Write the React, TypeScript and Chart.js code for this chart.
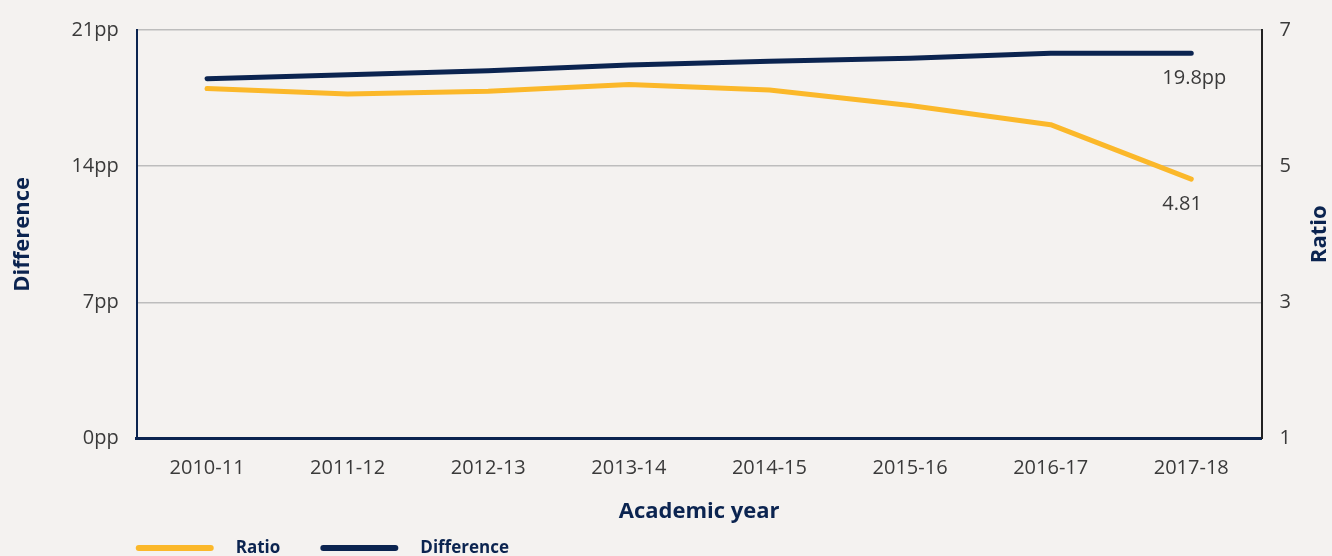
import React, { useEffect, useRef } from "react";
import { Chart, registerables } from "chart.js";

Chart.register(...registerables);

const years = ["2010-11", "2011-12", "2012-13", "2013-14", "2014-15", "2015-16", "2016-17", "2017-18"];
const difference = [18.5, 18.7, 18.9, 19.2, 19.4, 19.55, 19.8, 19.8];
const ratio = [6.14, 6.06, 6.1, 6.2, 6.12, 5.89, 5.61, 4.81];
const endLabels = ["4.81", "19.8pp"];

const NAVY = "#0b2450";
const YELLOW = "#fbb82a";
const BG = "#f4f2f0";
const TEXT = "#3a3a3a";
const FONT = "'Open Sans', 'Noto Sans', sans-serif";

export default function App() {
  const ref = useRef<HTMLCanvasElement>(null);
  useEffect(() => {
    document.body.style.margin = "0";
    document.body.style.background = BG;
    const canvas = ref.current!;
    const extras = {
      id: "extras",
      beforeDraw(chart: any) {
        const { ctx } = chart;
        ctx.save();
        ctx.fillStyle = BG;
        ctx.fillRect(0, 0, chart.width, chart.height);
        ctx.restore();
      },
      afterDraw(chart: any) {
        const { ctx, chartArea } = chart;
        ctx.save();
        ctx.font = `20px ${FONT}`;
        ctx.fillStyle = TEXT;
        ctx.textAlign = "left";
        ctx.textBaseline = "middle";
        chart.data.datasets.forEach((ds: any, i: number) => {
          const meta = chart.getDatasetMeta(i);
          const pt = meta.data[meta.data.length - 1];
          ctx.fillText(endLabels[i], pt.x - 29, pt.y + 25);
        });
        ctx.font = `bold 22px ${FONT}`;
        ctx.fillStyle = NAVY;
        ctx.textAlign = "center";
        ctx.translate(1320, (chartArea.top + chartArea.bottom) / 2);
        ctx.rotate(-Math.PI / 2);
        ctx.fillText("Ratio", 0, 0);
        ctx.restore();
        ctx.save();
        const ly = 548;
        let x = chartArea.left;
        ctx.lineCap = "round";
        ctx.lineWidth = 6;
        ctx.font = `bold 17px ${FONT}`;
        ctx.textBaseline = "middle";
        ctx.textAlign = "left";
        chart.data.datasets.forEach((ds: any) => {
          ctx.strokeStyle = ds.borderColor;
          ctx.beginPath();
          ctx.moveTo(x + 2, ly);
          ctx.lineTo(x + 74, ly);
          ctx.stroke();
          ctx.fillStyle = NAVY;
          ctx.fillText(ds.label, x + 99, ly);
          x += 99 + ctx.measureText(ds.label).width + 41;
        });
        ctx.restore();
      },
    };
    const chart = new Chart(canvas, {
      type: "line",
      data: {
        labels: years,
        datasets: [
          {
            label: "Ratio",
            data: ratio,
            yAxisID: "y1",
            borderColor: YELLOW,
            borderWidth: 5,
            borderCapStyle: "round",
            borderJoinStyle: "round",
            pointRadius: 0,
            tension: 0,
          },
          {
            label: "Difference",
            data: difference,
            yAxisID: "y",
            borderColor: NAVY,
            borderWidth: 5,
            borderCapStyle: "round",
            borderJoinStyle: "round",
            pointRadius: 0,
            tension: 0,
          },
        ],
      },
      plugins: [extras],
      options: {
        responsive: false,
        animation: false,
        layout: { padding: { top: 22, bottom: 31, left: 10, right: 23 } },
        plugins: { legend: { display: false }, tooltip: { enabled: false } },
        scales: {
          x: {
            offset: true,
            grid: { display: false, drawTicks: false },
            border: { display: true, color: NAVY, width: 3 },
            ticks: { color: TEXT, font: { family: FONT, size: 20 }, padding: 18 },
            title: {
              display: true,
              text: "Academic year",
              color: NAVY,
              font: { family: FONT, size: 22, weight: "bold" },
              padding: { top: 0, bottom: 0 },
            },
          },
          y: {
            position: "left",
            min: 0,
            max: 21,
            ticks: {
              stepSize: 7,
              color: TEXT,
              font: { family: FONT, size: 20 },
              padding: 18,
              callback: (v: any) => v + "pp",
            },
            grid: { color: "#bdbdbd", lineWidth: 1.5, drawTicks: false },
            border: { display: true, color: NAVY, width: 2 },
            title: {
              display: true,
              text: "Difference",
              color: NAVY,
              font: { family: FONT, size: 22, weight: "bold" },
              padding: { top: 0, bottom: 17 },
            },
          },
          y1: {
            position: "right",
            min: 1,
            max: 7,
            ticks: { stepSize: 2, color: TEXT, font: { family: FONT, size: 20 }, padding: 18 },
            grid: { display: false, drawTicks: false },
            border: { display: true, color: "#222222", width: 2 },
          },
        },
      },
    });
    return () => chart.destroy();
  }, []);
  return (
    <div style={{ width: 1332, height: 556 }}>
      <canvas ref={ref} width={1332} height={556} style={{ display: "block" }} />
    </div>
  );
}
